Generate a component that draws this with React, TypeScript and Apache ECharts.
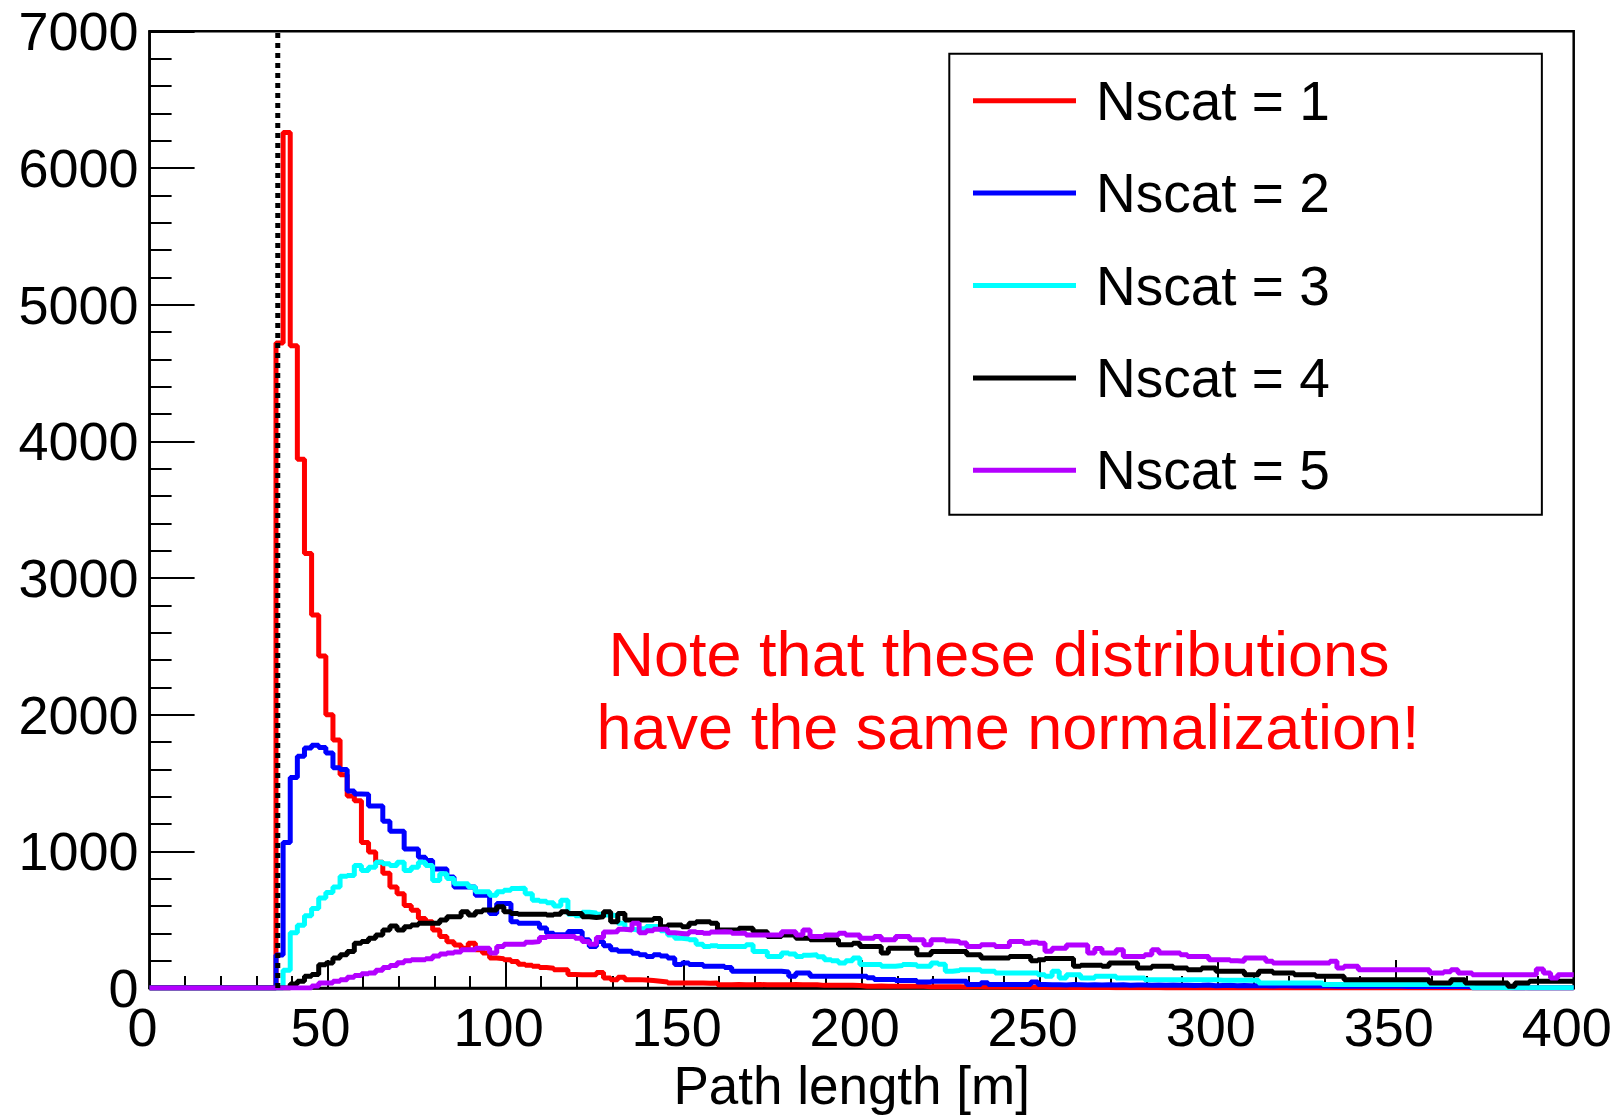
import React, { useEffect, useRef } from "react";
import * as echarts from "echarts";

const FONT = "'Liberation Sans', Arial, Helvetica, sans-serif";

const SERIES_NAMES = ["Nscat = 1", "Nscat = 2", "Nscat = 3", "Nscat = 4", "Nscat = 5"];
const SERIES_COLORS = ["#ff0000", "#0000ff", "#00ffff", "#000000", "#b400ff"];

// histogram binning (x in metres)
const BIN_START = 35.5;
const BIN_WIDTH = 2;
const X_MIN = 0;
const X_MAX = 400;
const X_INTERVAL = 50;
const Y_MIN = 0;
const Y_MAX = 7000;
const Y_INTERVAL = 1000;
const CUT_X = 36;

const NOTE_LINES = ["Note that these distributions", "have the same normalization!"];
const X_NAME = "Path length [m]";

// bin contents, one value per 2 m bin starting at BIN_START
const nscat1 = [
  4720, 6260, 4700, 3870, 3180, 2730, 2430, 2000, 1815, 1560,
  1405, 1370, 1065, 995, 920, 840, 740, 690, 605, 570,
  510, 485, 425, 378, 340, 316, 292, 328, 280, 256,
  220, 215, 207, 195, 175, 168, 160, 150, 145, 135,
  135, 100, 98, 98, 98, 115, 74, 62, 80, 62,
  62, 60, 55, 50, 45, 38, 38, 38, 37, 38,
  36, 38, 25, 25, 26, 24, 25, 26, 24, 25,
  25, 24, 26, 25, 24, 25, 20, 20, 21, 20,
  20, 19, 14, 14, 15, 14, 14, 13, 14, 14,
  13, 9, 9, 10, 9, 9, 8, 9, 9, 8,
  9, 8, 8, 9, 8, 8, 7, 8, 7, 6,
  6, 5, 5, 4, 5, 4, 4, 3, 3, 3,
  2, 2, 2, 2, 1, 1, 1, 1, 1, 0,
  0, 0, 0, 0, 0, 0, 0, 0, 0, 0,
  0, 0, 0, 0, 0, 0, 0, 0, 0, 0,
  0, 0, 0, 0, 0, 0, 0, 0, 0, 0,
  0, 0, 0, 0, 0, 0, 0, 0, 0, 0,
  0, 0, 0, 0, 0, 0, 0, 0, 0, 0,
  0, 0,
];

const nscat2 = [
  243, 1066, 1540, 1696, 1757, 1777, 1760, 1720, 1612, 1600,
  1442, 1420, 1418, 1332, 1332, 1220, 1147, 1147, 1018, 1018,
  957, 933, 872, 872, 812, 739, 739, 739, 679, 679,
  546, 619, 619, 485, 474, 474, 474, 440, 402, 390,
  390, 414, 414, 353, 305, 341, 310, 281, 269, 269,
  255, 244, 232, 244, 235, 220, 172, 184, 172, 172,
  160, 160, 160, 150, 123, 123, 123, 123, 123, 123,
  123, 118, 87, 111, 111, 87, 87, 87, 87, 87,
  87, 87, 87, 75, 63, 63, 63, 56, 56, 56,
  44, 44, 51, 51, 51, 51, 51, 27, 27, 39,
  27, 27, 27, 27, 27, 27, 44, 26, 24, 25,
  23, 26, 24, 22, 25, 23, 24, 22, 24, 21,
  23, 22, 20, 23, 21, 22, 20, 21, 19, 20,
  22, 18, 19, 20, 17, 19, 18, 17, 18, 16,
  18, 17, 15, 17, 16, 15, 16, 15, 14, 16,
  14, 15, 13, 14, 15, 13, 14, 13, 12, 14,
  12, 13, 11, 12, 13, 11, 12, 10, 3, 2,
  3, 2, 2, 1, 2, 1, 1, 1, 0, 1,
  0, 0,
];

const nscat3 = [
  0, 130, 405, 460, 530, 583, 660, 700, 740, 818,
  824, 897, 861, 885, 921, 909, 897, 921, 861, 885,
  921, 897, 788, 837, 801, 764, 764, 740, 704, 704,
  680, 704, 716, 728, 730, 690, 643, 635, 625, 600,
  643, 540, 530, 555, 550, 540, 534, 530, 474, 430,
  425, 435, 450, 450, 420, 389, 365, 360, 353, 320,
  304, 310, 304, 304, 304, 304, 317, 268, 268, 232,
  232, 256, 250, 232, 240, 244, 230, 208, 200, 184,
  200, 220, 172, 172, 172, 160, 160, 165, 172, 170,
  160, 160, 184, 175, 123, 128, 135, 135, 135, 123,
  123, 111, 111, 111, 110, 111, 111, 98, 86, 123,
  74, 98, 98, 74, 74, 86, 86, 86, 74, 74,
  74, 74, 62, 62, 62, 62, 62, 62, 62, 62,
  62, 62, 57, 57, 57, 57, 57, 57, 38, 38,
  38, 38, 38, 38, 38, 38, 38, 26, 26, 26,
  26, 26, 26, 26, 26, 26, 26, 26, 26, 26,
  26, 26, 26, 26, 26, 26, 26, 26, 2, 2,
  2, 2, 2, 2, 2, 2, 2, 2, 2, 2,
  2, 2,
];

const nscat4 = [
  0, 0, 30, 50, 86, 100, 171, 184, 220, 244,
  268, 329, 341, 365, 389, 425, 454, 425, 449, 462,
  474, 474, 474, 498, 522, 522, 558, 534, 558, 571,
  571, 595, 558, 546, 540, 540, 540, 540, 534, 540,
  558, 546, 546, 522, 517, 522, 558, 486, 546, 498,
  498, 498, 498, 510, 449, 461, 461, 449, 474, 486,
  486, 474, 425, 425, 425, 437, 437, 413, 413, 377,
  377, 389, 389, 365, 365, 353, 353, 353, 353, 317,
  317, 329, 304, 304, 304, 256, 292, 292, 292, 292,
  244, 244, 268, 268, 268, 268, 268, 244, 244, 220,
  220, 220, 220, 232, 232, 232, 200, 208, 216, 216,
  216, 216, 159, 167, 167, 167, 159, 184, 184, 184,
  184, 147, 147, 159, 159, 159, 147, 147, 135, 135,
  147, 147, 123, 123, 123, 123, 98, 98, 123, 123,
  111, 111, 111, 98, 98, 98, 86, 86, 86, 86,
  62, 62, 62, 62, 62, 62, 62, 62, 62, 62,
  62, 62, 38, 38, 38, 62, 62, 38, 38, 38,
  38, 38, 38, 14, 38, 38, 50, 50, 50, 50,
  50, 50,
];

const nscat5 = [
  0, 0, 0, 0, 0, 15, 38, 38, 50, 62,
  80, 92, 105, 111, 130, 150, 165, 185, 200, 208,
  208, 215, 235, 250, 256, 265, 280, 280, 292, 292,
  256, 304, 320, 320, 320, 335, 340, 370, 377, 377,
  377, 377, 365, 341, 320, 370, 410, 413, 430, 425,
  474, 405, 420, 430, 430, 405, 400, 395, 413, 407,
  401, 410, 413, 410, 401, 401, 389, 389, 389, 389,
  389, 413, 413, 389, 425, 377, 377, 389, 389, 401,
  389, 389, 365, 365, 377, 353, 353, 377, 377, 353,
  353, 317, 353, 353, 345, 341, 330, 304, 304, 317,
  317, 304, 304, 341, 341, 329, 335, 328, 270, 292,
  292, 316, 316, 316, 256, 290, 256, 256, 280, 232,
  232, 232, 244, 280, 256, 256, 256, 244, 232, 232,
  232, 208, 208, 208, 200, 196, 220, 220, 220, 196,
  184, 184, 184, 184, 184, 184, 184, 184, 196, 147,
  159, 159, 135, 135, 135, 135, 135, 135, 135, 135,
  135, 135, 111, 111, 120, 135, 111, 111, 98, 98,
  98, 98, 98, 98, 98, 98, 98, 140, 111, 74,
  98, 98,
];

const SERIES_VALUES = [nscat1, nscat2, nscat3, nscat4, nscat5];

function toSteps(values: number[]): number[][] {
  const pts: number[][] = [[X_MIN, 0]];
  values.forEach((v, i) => pts.push([BIN_START + i * BIN_WIDTH, v]));
  pts.push([X_MAX, values[values.length - 1]]);
  return pts;
}

export default function App() {
  const ref = useRef<HTMLDivElement>(null);

  useEffect(() => {
    document.body.style.margin = "0";
    if (!ref.current) return;
    const chart = echarts.init(ref.current, undefined, { renderer: "svg" });

    const histSeries = SERIES_NAMES.map((name, i) => ({
      name,
      type: "line",
      step: "end",
      symbol: "none",
      data: toSteps(SERIES_VALUES[i]),
      lineStyle: { color: SERIES_COLORS[i], width: 5 },
      itemStyle: { color: SERIES_COLORS[i] },
      silent: true,
      z: 2 + i * 0.01,
    }));

    const option: any = {
      animation: false,
      backgroundColor: "#ffffff",
      textStyle: { fontFamily: FONT },
      grid: {
        left: 149.6,
        right: 44.3,
        top: 31.3,
        bottom: 121.8,
        show: true,
        borderColor: "#000",
        borderWidth: 2.5,
        backgroundColor: "transparent",
      },
      xAxis: {
        type: "value",
        min: X_MIN,
        max: X_MAX,
        interval: X_INTERVAL,
        name: X_NAME,
        nameLocation: "middle",
        nameGap: 64,
        nameTextStyle: { fontSize: 53, color: "#000", fontFamily: FONT, padding: [0, 20, 0, 0] },
        axisLine: { show: true, onZero: false, lineStyle: { color: "#000", width: 2.5 } },
        axisTick: { show: true, inside: true, length: 28, lineStyle: { color: "#000", width: 2 } },
        minorTick: { show: true, splitNumber: 5, length: 12, lineStyle: { color: "#000", width: 2 } },
        axisLabel: {
          fontSize: 54,
          color: "#000",
          margin: 12,
          fontFamily: FONT,
          padding: [0, 14, 0, 0],
          formatter: (v: number) => String(v),
        },
        splitLine: { show: false },
        minorSplitLine: { show: false },
      },
      yAxis: {
        type: "value",
        min: Y_MIN,
        max: Y_MAX,
        interval: Y_INTERVAL,
        axisLine: { show: true, onZero: false, lineStyle: { color: "#000", width: 2.5 } },
        axisTick: { show: true, inside: true, length: 45, lineStyle: { color: "#000", width: 2 } },
        minorTick: { show: true, splitNumber: 5, length: 22, lineStyle: { color: "#000", width: 2 } },
        axisLabel: {
          fontSize: 54,
          color: "#000",
          margin: 11,
          fontFamily: FONT,
          formatter: (v: number) => String(v),
        },
        splitLine: { show: false },
        minorSplitLine: { show: false },
      },
      legend: {
        data: SERIES_NAMES.map((name) => ({ name, icon: "rect" })),
        orient: "vertical",
        left: 949.3,
        top: 53.7,
        padding: [19, 212, 16.4, 23.7],
        itemGap: 36.4,
        itemWidth: 103,
        itemHeight: 5,
        backgroundColor: "#ffffff",
        borderColor: "#000",
        borderWidth: 2,
        borderRadius: 0,
        selectedMode: false,
        textStyle: { fontSize: 55, color: "#000", fontFamily: FONT, lineHeight: 56, padding: [0, 0, 0, 15] },
      },
      graphic: [
        {
          type: "text",
          x: 999,
          y: 654,
          z: 100,
          style: {
            text: NOTE_LINES[0],
            fill: "#ff0000",
            fontSize: 63,
            fontFamily: FONT,
            align: "center",
            verticalAlign: "middle",
            textAlign: "center",
            textVerticalAlign: "middle",
          },
        },
        {
          type: "text",
          x: 1008,
          y: 727,
          z: 100,
          style: {
            text: NOTE_LINES[1],
            fill: "#ff0000",
            fontSize: 63,
            fontFamily: FONT,
            align: "center",
            verticalAlign: "middle",
            textAlign: "center",
            textVerticalAlign: "middle",
          },
        },
      ],
      series: [
        ...histSeries,
        {
          name: "cut",
          type: "line",
          symbol: "none",
          data: [
            [CUT_X, Y_MIN],
            [CUT_X, Y_MAX],
          ],
          lineStyle: { color: "#000", width: 5, type: [5, 5] },
          silent: true,
          z: 3,
        },
      ],
    };

    chart.setOption(option);
    return () => chart.dispose();
  }, []);

  return <div ref={ref} style={{ width: 1618, height: 1117 }} />;
}
